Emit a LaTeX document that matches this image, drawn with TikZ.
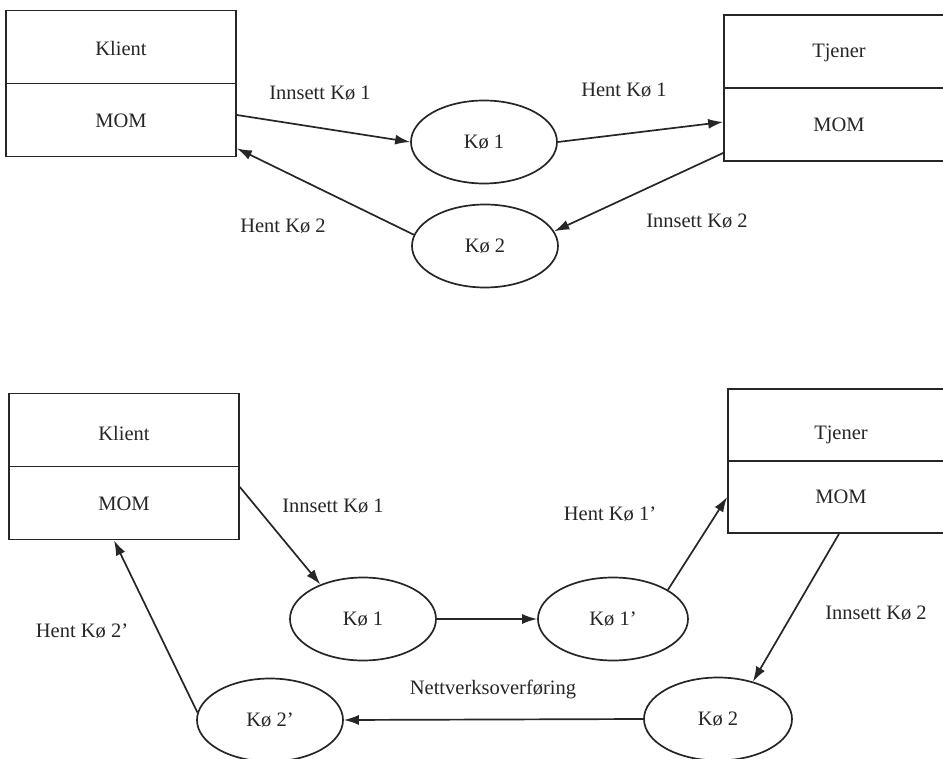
\documentclass[tikz,border=0pt]{standalone}
\usepackage{fontspec}
\setmainfont{Liberation Serif}
\usetikzlibrary{shapes.geometric,calc,arrows.meta}

\begin{document}
\begin{tikzpicture}[x=1pt,y=-1pt,
  ink/.style={draw=black!85, line width=1.7pt},
  actor/.style={ink, rectangle, minimum width=230pt, minimum height=146pt, inner sep=0pt},
  queue/.style={ink, ellipse, minimum width=146pt, minimum height=83pt, inner sep=0pt,
                font=\fontsize{20.5}{24}\selectfont, text=black!85},
  lbl/.style={font=\fontsize{20.5}{24}\selectfont, text=black!85, inner sep=0pt},
  flow/.style={ink, -{Latex[length=15pt,width=10pt]}}]

\clip (0,0) rectangle (943,759);

% ---------- upper diagram: local queues ----------
\node[actor] (tk) at (121,83.5) {};
\draw[ink] (tk.west) -- (tk.east);
\node[lbl] (tkc) at (121,48) {Klient};
\node[lbl] (tkm) at (121,121) {MOM};

\node[actor] (tt) at (839,88) {};
\draw[ink] (tt.west) -- (tt.east);
\node[lbl] (ttc) at (839,53) {Tjener};
\node[lbl] (ttm) at (839,125) {MOM};

\node[queue] (tq1) at (484,142) {Kø 1};
\node[queue] (tq2) at (485,246) {Kø 2};

\draw[flow] ($(tk.east)+(0,31.5)$) -- (tq1.west);
\draw[flow] (tq1.east) -- ($(tt.west)+(0,34)$);
\draw[flow] ($(tt.west)+(0,65)$) -- (tq2.12);
\draw[flow] (tq2.171) -- ($(tk.south east)+(0,-9)$);

\node[lbl] (l1) at (320,93) {Innsett Kø 1};
\node[lbl] (l2) at (624,90) {Hent Kø 1};
\node[lbl] (l3) at (283,226) {Hent Kø 2};
\node[lbl] (l4) at (697,221) {Innsett Kø 2};

% ---------- lower diagram: queues across the network ----------
\node[actor] (bk) at (124,466.5) {};
\draw[ink] (bk.west) -- (bk.east);
\node[lbl] (bkc) at (124,433) {Klient};
\node[lbl] (bkm) at (124,504) {MOM};

\node[actor, minimum height=144pt] (bt) at (843,461) {};
\draw[ink] (bt.west) -- (bt.east);
\node[lbl] (btc) at (841,435) {Tjener};
\node[lbl] (btm) at (841,497) {MOM};

\node[queue] (bq1) at (363,619) {Kø 1};
\node[queue, minimum width=150pt] (bq1p) at (613,619) {Kø 1'};
\node[queue, minimum width=148pt] (bq2) at (718,719) {Kø 2};
\node[queue] (bq2p) at (270,720) {Kø 2'};

\draw[flow] ($(bk.east)+(0,20.5)$) -- (bq1.141);
\draw[flow] (bq1.east) -- (bq1p.west);
\draw[flow] (bq1p.28) -- ($(bt.west)+(0,36)$);
\draw[flow] ($(bt.south)+(-4,0)$) -- (bq2.47);
\draw[flow] (bq2.west) -- (bq2p.east);
\draw[flow] (bq2p.174) -- ($(bk.south)+(-10,0)$);

\node[lbl] (m1) at (333,506) {Innsett Kø 1};
\node[lbl] (m2) at (610,514) {Hent Kø 1'};
\node[lbl] (m3) at (876,613) {Innsett Kø 2};
\node[lbl] (m4) at (82,631) {Hent Kø 2'};
\node[lbl] (m5) at (493,689) {Nettverksoverføring};
\end{tikzpicture}
\end{document}
